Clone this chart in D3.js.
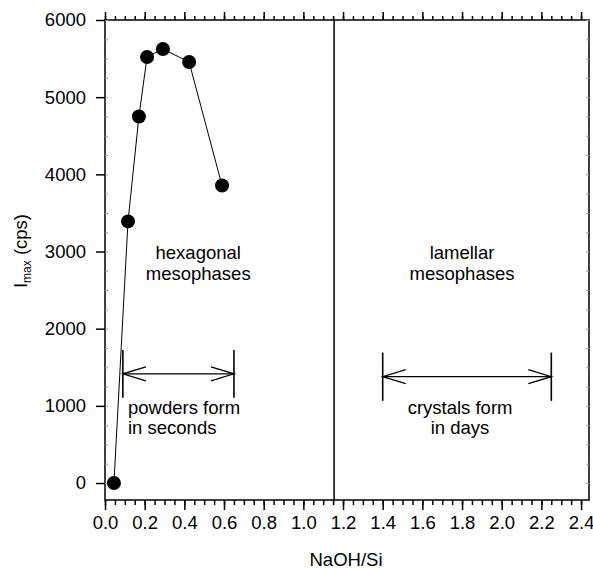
<!DOCTYPE html>
<html>
<head>
<meta charset="utf-8">
<script src="https://cdn.jsdelivr.net/npm/d3@7"></script>
<style>
  body { margin: 0; background: #fff; }
  text { font-family: "Liberation Sans", Arial, sans-serif; fill: #000; }
</style>
</head>
<body>
<script>
// data
const ratio = [0.045, 0.116, 0.171, 0.212, 0.292, 0.424, 0.59];
const intensity = [0, 3390, 4750, 5520, 5625, 5455, 3855];
const xTicks = [0.0, 0.2, 0.4, 0.6, 0.8, 1.0, 1.2, 1.4, 1.6, 1.8, 2.0, 2.2, 2.4];
const yTicks = [0, 1000, 2000, 3000, 4000, 5000, 6000];
const boundary = 1.155;
// ranges shown with double arrows: [from, to, level, barLow, barHigh]
const ranges = [
  [0.09, 0.65, 1415, 1105, 1725],
  [1.4, 2.25, 1378, 1065, 1690]
];

const width = 593;
const height = 569;
const fs = 18.5;

const svg = d3.select("body").append("svg")
  .attr("width", width)
  .attr("height", height);

const x = d3.scaleLinear().domain([0, 2.44]).range([105, 589]);
const y = d3.scaleLinear().domain([-220, 6000]).range([500, 20]);

//frame
svg.append("rect")
  .attr("x", x.range()[0]).attr("y", y.range()[1])
  .attr("width", x.range()[1] - x.range()[0])
  .attr("height", y.range()[0] - y.range()[1])
  .attr("fill", "none").attr("stroke", "#000").attr("stroke-width", 1.5);

const minorX = d3.range(0, 2.44, 0.05);
const minorY = d3.range(0, 6001, 250);

//bottom axis
const xAxis = svg.append("g").attr("transform", "translate(0,500)");
xAxis.call(d3.axisBottom(x).tickValues(minorX).tickSize(5).tickFormat(""));
xAxis.call(g => g.select(".domain").remove());
const xMajor = svg.append("g").attr("transform", "translate(0,500)")
  .call(d3.axisBottom(x).tickValues(xTicks).tickSize(10).tickPadding(6)
    .tickFormat(d3.format(".1f")));
xMajor.select(".domain").remove();
xMajor.selectAll("text").attr("font-size", fs).attr("fill", "#000");
svg.selectAll(".tick line").attr("stroke", "#000").attr("stroke-width", 1.5);

//top axis
const topAxis = svg.append("g").attr("transform", "translate(0,20)");
topAxis.call(d3.axisTop(x).tickValues(minorX).tickSize(4).tickFormat(""));
topAxis.append("g").call(d3.axisTop(x).tickValues(xTicks).tickSize(8).tickFormat(""));
topAxis.selectAll(".domain").remove();
topAxis.selectAll(".tick line").attr("stroke", "#000").attr("stroke-width", 1.5);

//left axis
const yAxis = svg.append("g").attr("transform", "translate(105,0)")
  .call(d3.axisLeft(y).tickValues(yTicks).tickSize(9).tickPadding(10)
    .tickFormat(d3.format("d")));
yAxis.select(".domain").remove();
yAxis.selectAll(".tick line").attr("stroke", "#000").attr("stroke-width", 1.5);
yAxis.selectAll("text").attr("font-size", fs).attr("fill", "#000");
const yMinor = svg.append("g").attr("transform", "translate(105,0)")
  .call(d3.axisRight(y).tickValues(minorY).tickSize(3).tickFormat(""));
yMinor.select(".domain").remove();
yMinor.selectAll(".tick line").attr("stroke", "#999");

//right axis, faint inner ticks
const rMinor = svg.append("g").attr("transform", "translate(589,0)")
  .call(d3.axisLeft(y).tickValues(minorY).tickSize(3).tickFormat(""));
rMinor.select(".domain").remove();
rMinor.selectAll(".tick line").attr("stroke", "#999");

//boundary between phases
svg.append("line")
  .attr("x1", x(boundary)).attr("x2", x(boundary))
  .attr("y1", y.range()[1]).attr("y2", y.range()[0])
  .attr("stroke", "#000").attr("stroke-width", 1.5);

//data
const points = ratio.map((r, i) => [r, intensity[i]]);
svg.append("path")
  .datum(points)
  .attr("fill", "none")
  .attr("stroke", "#000")
  .attr("stroke-width", 1)
  .attr("d", d3.line().x(d => x(d[0])).y(d => y(d[1])));

svg.selectAll("circle")
  .data(points)
  .enter()
  .append("circle")
  .attr("cx", d => x(d[0]))
  .attr("cy", d => y(d[1]))
  .attr("r", 7)
  .attr("fill", "#000");

//double arrows
ranges.forEach(([a, b, lvl, lo, hi]) => {
  const g = svg.append("g").attr("stroke", "#000").attr("fill", "none").attr("stroke-width", 1.3);
  const x1 = x(a), x2 = x(b), yy = y(lvl);
  g.append("line").attr("x1", x1).attr("x2", x2).attr("y1", yy).attr("y2", yy);
  [x1, x2].forEach(xx => {
    g.append("line").attr("x1", xx).attr("x2", xx).attr("y1", y(hi)).attr("y2", y(lo))
      .attr("stroke-width", 1.6);
  });
  g.append("path").attr("d", `M${x1 + 23},${yy - 7}L${x1},${yy}L${x1 + 23},${yy + 7}`);
  g.append("path").attr("d", `M${x2 - 23},${yy - 7}L${x2},${yy}L${x2 - 23},${yy + 7}`);
});

//annotations
const note = (txt, xv, yPix, anchor) =>
  svg.append("text")
    .attr("x", x(xv)).attr("y", yPix)
    .attr("font-size", fs)
    .attr("text-anchor", anchor)
    .text(txt);

note("hexagonal", 0.47, 259, "middle");
note("mesophases", 0.47, 280, "middle");
note("lamellar", 1.8, 259, "middle");
note("mesophases", 1.8, 280, "middle");
note("powders form", 0.116, 414, "start");
note("in seconds", 0.116, 434, "start");
note("crystals form", 1.79, 414, "middle");
note("in days", 1.79, 434, "middle");

//axis titles
svg.append("text")
  .attr("x", 346).attr("y", 566)
  .attr("font-size", fs)
  .attr("text-anchor", "middle")
  .text("NaOH/Si");

const yTitle = svg.append("text")
  .attr("transform", "translate(27,251) rotate(-90)")
  .attr("font-size", fs)
  .attr("text-anchor", "middle");
yTitle.append("tspan").text("I");
yTitle.append("tspan").attr("font-size", 12).attr("dy", 4).text("max");
yTitle.append("tspan").attr("dy", -4).text(" (cps)");
</script>
</body>
</html>
